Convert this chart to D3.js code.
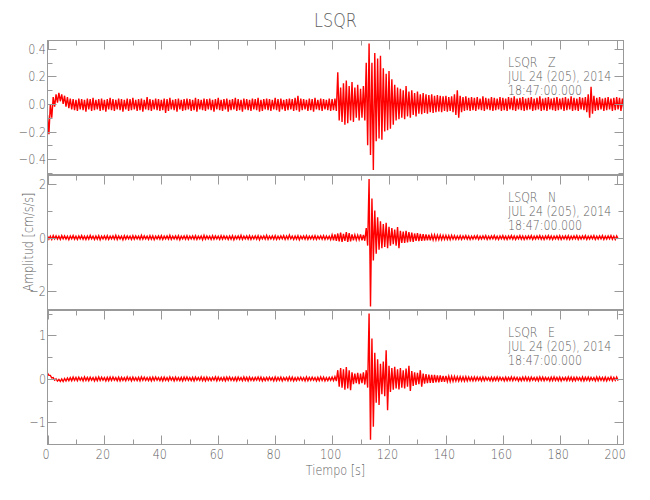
<!DOCTYPE html>
<html><head><meta charset="utf-8">
<script src="https://cdn.jsdelivr.net/npm/d3@7"></script>
<style>
body{margin:0;background:#fff}
text{font-family:"DejaVu Sans",sans-serif;font-weight:200;fill:#5e5e5e;white-space:pre}
</style>
</head><body><svg id="c" width="650" height="500"></svg>
<script>
// ---------- data ----------
const station = "LSQR";
const components = ["Z", "N", "E"];
const dateText = "JUL 24 (205), 2014";
const timeText = "18:47:00.000";
const xTitle = "Tiempo [s]";
const yTitle = "Amplitud [cm/s/s]";
const xDomain = [0, 202.4];
const xTicks = [0, 20, 40, 60, 80, 100, 120, 140, 160, 180, 200];
const xMinorTicks = [10, 30, 50, 70, 90, 110, 130, 150, 170, 190];
const zTicks = [-0.4, -0.2, 0, 0.2, 0.4];
const zMinorTicks = [-0.5, -0.3, -0.1, 0.1, 0.3];
const nTicks = [-2, 0, 2];
const nMinorTicks = [-1, 1];
const eTicks = [-1, 0, 1];
const eMinorTicks = [-1.5, -0.5, 0.5, 1.5];
const zDomain = [-0.512, 0.461];
const nDomain = [-2.675, 2.306];
const eDomain = [-1.508, 1.572];
const sampleStep = 1; // seconds per envelope sample (max at t, min at t+step/2)

// Z component: per-second envelope max / min (t = 0..202)
const zMax = [
-0.08,0.00,0.05,0.07,0.08,0.07,0.06,0.05,0.04,0.035,
0.03,0.04,0.035,0.03,0.04,0.035,0.045,0.03,0.035,0.04,
0.03,0.035,0.045,0.035,0.03,0.04,0.035,0.03,0.04,0.035,
0.045,0.03,0.035,0.04,0.03,0.05,0.035,0.03,0.04,0.035,
0.03,0.04,0.035,0.045,0.03,0.035,0.04,0.03,0.035,0.04,
0.035,0.03,0.045,0.035,0.03,0.04,0.035,0.04,0.03,0.035,
0.045,0.03,0.035,0.04,0.03,0.035,0.045,0.035,0.03,0.04,
0.035,0.03,0.04,0.035,0.045,0.03,0.035,0.04,0.035,0.03,
0.045,0.035,0.04,0.03,0.035,0.04,0.035,0.045,0.06,0.04,
0.035,0.03,0.04,0.035,0.045,0.03,0.04,0.035,0.03,0.04,
0.035,0.04,0.23,0.12,0.15,0.17,0.13,0.16,0.12,0.14,
0.11,0.13,0.30,0.44,0.30,0.37,0.33,0.35,0.26,0.22,
0.24,0.18,0.14,0.12,0.11,0.10,0.13,0.09,0.10,0.08,
0.09,0.07,0.08,0.07,0.065,0.07,0.06,0.065,0.06,0.055,
0.06,0.05,0.055,0.07,0.10,0.06,0.05,0.055,0.045,0.05,
0.045,0.05,0.04,0.055,0.045,0.04,0.05,0.045,0.04,0.05,
0.045,0.04,0.05,0.045,0.055,0.04,0.045,0.05,0.04,0.045,
0.05,0.04,0.045,0.055,0.04,0.045,0.05,0.04,0.045,0.05,
0.04,0.045,0.05,0.04,0.055,0.045,0.04,0.05,0.045,0.05,
0.07,0.125,0.06,0.045,0.05,0.04,0.045,0.05,0.04,0.045,
0.05,0.045,0.04];
const zMin = [
-0.22,-0.10,-0.02,0.01,0.02,0.00,-0.02,-0.03,-0.04,-0.045,
-0.05,-0.04,-0.045,-0.055,-0.04,-0.05,-0.045,-0.04,-0.05,-0.045,
-0.055,-0.04,-0.045,-0.05,-0.04,-0.045,-0.055,-0.04,-0.05,-0.045,
-0.04,-0.05,-0.045,-0.055,-0.04,-0.045,-0.05,-0.04,-0.045,-0.05,
-0.045,-0.065,-0.05,-0.04,-0.045,-0.055,-0.04,-0.05,-0.045,-0.04,
-0.05,-0.045,-0.055,-0.04,-0.045,-0.05,-0.04,-0.045,-0.055,-0.04,
-0.045,-0.05,-0.04,-0.055,-0.045,-0.04,-0.05,-0.045,-0.055,-0.04,
-0.045,-0.05,-0.04,-0.045,-0.055,-0.05,-0.04,-0.045,-0.05,-0.04,
-0.045,-0.055,-0.04,-0.05,-0.045,-0.04,-0.05,-0.045,-0.055,-0.045,
-0.04,-0.05,-0.045,-0.055,-0.04,-0.045,-0.05,-0.04,-0.045,-0.05,
-0.045,-0.05,-0.12,-0.13,-0.15,-0.14,-0.12,-0.13,-0.10,-0.12,
-0.10,-0.12,-0.30,-0.37,-0.48,-0.27,-0.25,-0.26,-0.20,-0.19,
-0.18,-0.15,-0.12,-0.11,-0.10,-0.11,-0.09,-0.10,-0.08,-0.09,
-0.07,-0.075,-0.065,-0.07,-0.06,-0.065,-0.06,-0.055,-0.06,-0.05,
-0.055,-0.05,-0.06,-0.08,-0.10,-0.06,-0.05,-0.045,-0.05,-0.045,
-0.05,-0.04,-0.045,-0.05,-0.04,-0.045,-0.05,-0.045,-0.04,-0.05,
-0.045,-0.05,-0.04,-0.045,-0.05,-0.04,-0.045,-0.05,-0.045,-0.04,
-0.05,-0.045,-0.04,-0.05,-0.045,-0.05,-0.04,-0.045,-0.05,-0.045,
-0.04,-0.05,-0.045,-0.04,-0.05,-0.045,-0.05,-0.04,-0.045,-0.06,
-0.10,-0.07,-0.05,-0.045,-0.04,-0.05,-0.045,-0.04,-0.05,-0.045,
-0.04,-0.05,-0.045];

// N component (t = 0..200)
const nMax = [
0.06,0.05,0.07,0.06,0.05,0.07,0.06,0.05,0.06,0.07,
0.05,0.06,0.07,0.05,0.06,0.08,0.05,0.06,0.07,0.05,
0.06,0.07,0.05,0.06,0.08,0.06,0.05,0.07,0.06,0.05,
0.07,0.06,0.05,0.08,0.06,0.05,0.07,0.06,0.05,0.06,
0.07,0.05,0.06,0.08,0.05,0.06,0.07,0.05,0.06,0.07,
0.05,0.06,0.07,0.05,0.06,0.08,0.06,0.05,0.07,0.06,
0.05,0.07,0.06,0.05,0.06,0.07,0.05,0.06,0.08,0.05,
0.06,0.07,0.05,0.06,0.07,0.05,0.06,0.08,0.05,0.06,
0.07,0.05,0.06,0.07,0.06,0.09,0.05,0.06,0.07,0.05,
0.06,0.07,0.05,0.06,0.07,0.05,0.06,0.07,0.06,0.05,
0.10,0.12,0.15,0.18,0.14,0.20,0.16,0.12,0.10,0.09,
0.12,0.10,0.35,2.18,1.45,1.00,0.75,0.60,0.50,0.55,
0.40,0.35,0.30,0.39,0.25,0.22,0.25,0.20,0.18,0.15,
0.16,0.14,0.13,0.12,0.11,0.10,0.10,0.09,0.09,0.08,
0.08,0.07,0.08,0.07,0.06,0.07,0.06,0.07,0.06,0.05,
0.06,0.07,0.05,0.06,0.07,0.05,0.06,0.07,0.05,0.06,
0.07,0.05,0.06,0.07,0.06,0.05,0.07,0.06,0.05,0.06,
0.07,0.05,0.06,0.07,0.05,0.06,0.07,0.06,0.05,0.06,
0.07,0.05,0.06,0.07,0.05,0.06,0.07,0.05,0.06,0.07,
0.05,0.06,0.07,0.05,0.06,0.07,0.05,0.06,0.07,0.05,
0.06];
const nMin = [
-0.06,-0.07,-0.05,-0.06,-0.07,-0.05,-0.06,-0.08,-0.05,-0.06,
-0.07,-0.05,-0.06,-0.07,-0.06,-0.05,-0.07,-0.06,-0.08,-0.05,
-0.06,-0.07,-0.05,-0.06,-0.07,-0.05,-0.08,-0.06,-0.05,-0.07,
-0.06,-0.05,-0.07,-0.06,-0.05,-0.07,-0.06,-0.08,-0.05,-0.06,
-0.07,-0.05,-0.06,-0.07,-0.05,-0.06,-0.08,-0.05,-0.06,-0.07,
-0.05,-0.06,-0.07,-0.05,-0.08,-0.06,-0.05,-0.07,-0.06,-0.05,
-0.07,-0.06,-0.05,-0.07,-0.06,-0.08,-0.05,-0.06,-0.07,-0.05,
-0.06,-0.07,-0.05,-0.06,-0.08,-0.05,-0.06,-0.07,-0.05,-0.06,
-0.07,-0.06,-0.05,-0.07,-0.06,-0.05,-0.07,-0.06,-0.08,-0.05,
-0.06,-0.07,-0.05,-0.06,-0.07,-0.05,-0.06,-0.07,-0.06,-0.08,
-0.10,-0.12,-0.14,-0.16,-0.12,-0.16,-0.14,-0.10,-0.09,-0.08,
-0.10,-0.12,-0.30,-2.56,-0.85,-0.60,-0.45,-0.40,-0.35,-0.40,
-0.30,-0.25,-0.30,-0.40,-0.20,-0.20,-0.18,-0.15,-0.16,-0.12,
-0.13,-0.12,-0.11,-0.10,-0.10,-0.09,-0.09,-0.08,-0.08,-0.07,
-0.07,-0.08,-0.06,-0.07,-0.06,-0.07,-0.05,-0.06,-0.07,-0.06,
-0.05,-0.07,-0.06,-0.05,-0.07,-0.06,-0.05,-0.06,-0.07,-0.05,
-0.06,-0.07,-0.05,-0.06,-0.07,-0.05,-0.06,-0.07,-0.06,-0.05,
-0.07,-0.06,-0.05,-0.06,-0.07,-0.05,-0.06,-0.07,-0.05,-0.06,
-0.07,-0.05,-0.06,-0.07,-0.06,-0.05,-0.07,-0.06,-0.05,-0.07,
-0.06,-0.05,-0.07,-0.06,-0.05,-0.07,-0.06,-0.05,-0.06,-0.07,
-0.05];

// E component (t = 0..200)
const eMax = [
0.13,0.08,0.03,0.00,-0.01,0.00,0.01,0.02,0.03,0.04,
0.035,0.04,0.03,0.045,0.035,0.04,0.03,0.035,0.045,0.04,
0.03,0.035,0.04,0.045,0.03,0.04,0.035,0.03,0.045,0.035,
0.04,0.03,0.035,0.045,0.04,0.03,0.035,0.04,0.045,0.03,
0.035,0.04,0.03,0.045,0.035,0.04,0.03,0.035,0.04,0.045,
0.03,0.035,0.04,0.03,0.045,0.035,0.04,0.03,0.035,0.045,
0.04,0.03,0.035,0.04,0.045,0.03,0.035,0.04,0.03,0.045,
0.035,0.04,0.03,0.035,0.045,0.04,0.03,0.035,0.04,0.03,
0.045,0.035,0.04,0.03,0.035,0.045,0.04,0.03,0.035,0.04,
0.03,0.045,0.035,0.04,0.03,0.035,0.045,0.04,0.03,0.035,
0.04,0.05,0.20,0.25,0.22,0.27,0.20,0.15,0.12,0.14,
0.12,0.15,0.20,1.50,0.93,0.60,0.45,0.35,0.40,0.66,
0.30,0.25,0.28,0.22,0.25,0.20,0.24,0.30,0.18,0.15,
0.14,0.20,0.12,0.11,0.10,0.09,0.09,0.08,0.08,0.07,
0.07,0.06,0.06,0.055,0.05,0.05,0.045,0.05,0.045,0.04,
0.045,0.04,0.035,0.045,0.04,0.03,0.04,0.035,0.045,0.04,
0.03,0.04,0.035,0.045,0.04,0.035,0.03,0.04,0.045,0.035,
0.04,0.03,0.035,0.045,0.04,0.035,0.03,0.04,0.045,0.035,
0.04,0.03,0.035,0.045,0.04,0.035,0.04,0.03,0.045,0.035,
0.04,0.035,0.03,0.045,0.04,0.035,0.04,0.03,0.045,0.035,
0.04];
const eMin = [
0.08,0.02,-0.03,-0.05,-0.06,-0.06,-0.05,-0.04,-0.04,-0.035,
-0.04,-0.03,-0.045,-0.035,-0.04,-0.03,-0.045,-0.04,-0.035,-0.03,
-0.045,-0.04,-0.035,-0.03,-0.04,-0.045,-0.035,-0.04,-0.03,-0.045,
-0.035,-0.04,-0.045,-0.03,-0.035,-0.04,-0.045,-0.035,-0.03,-0.04,
-0.045,-0.035,-0.04,-0.03,-0.045,-0.035,-0.04,-0.045,-0.03,-0.035,
-0.04,-0.045,-0.03,-0.035,-0.04,-0.045,-0.035,-0.04,-0.03,-0.045,
-0.035,-0.04,-0.045,-0.03,-0.035,-0.04,-0.045,-0.03,-0.04,-0.035,
-0.045,-0.035,-0.04,-0.03,-0.035,-0.045,-0.04,-0.035,-0.03,-0.045,
-0.04,-0.035,-0.045,-0.03,-0.04,-0.035,-0.045,-0.04,-0.03,-0.035,
-0.045,-0.04,-0.035,-0.03,-0.045,-0.04,-0.035,-0.045,-0.04,-0.035,
-0.04,-0.05,-0.18,-0.20,-0.25,-0.22,-0.26,-0.12,-0.10,-0.12,
-0.10,-0.13,-0.20,-1.40,-1.10,-0.55,-0.60,-0.35,-0.40,-0.72,
-0.30,-0.25,-0.22,-0.24,-0.20,-0.22,-0.18,-0.28,-0.16,-0.14,
-0.12,-0.18,-0.11,-0.10,-0.09,-0.09,-0.08,-0.08,-0.07,-0.07,
-0.06,-0.06,-0.055,-0.05,-0.05,-0.045,-0.05,-0.045,-0.04,-0.045,
-0.04,-0.035,-0.045,-0.04,-0.03,-0.04,-0.045,-0.035,-0.04,-0.03,
-0.045,-0.04,-0.035,-0.04,-0.03,-0.045,-0.04,-0.035,-0.04,-0.045,
-0.03,-0.04,-0.045,-0.035,-0.04,-0.03,-0.045,-0.04,-0.035,-0.04,
-0.045,-0.03,-0.04,-0.035,-0.045,-0.04,-0.03,-0.04,-0.045,-0.035,
-0.04,-0.03,-0.045,-0.04,-0.035,-0.04,-0.045,-0.03,-0.04,-0.035,
-0.04];

// ---------- drawing ----------
const svg = d3.select("#c");
const axisColor = "#999";
const SX = 0.8; // horizontal compression of text (narrow plotter font)

const x = d3.scaleLinear().domain(xDomain).range([47.5, 623.5]);
const panelTops = [40.5, 175.5, 310.5];
const panelH = 134;

const panels = [
  {comp: components[0], max: zMax, min: zMin, dom: zDomain, ticks: zTicks, minor: zMinorTicks, fmt: d3.format(".1f")},
  {comp: components[1], max: nMax, min: nMin, dom: nDomain, ticks: nTicks, minor: nMinorTicks, fmt: d3.format("d")},
  {comp: components[2], max: eMax, min: eMin, dom: eDomain, ticks: eTicks, minor: eMinorTicks, fmt: d3.format("d")}
];

function txt(parent, px, py, s, size, anchor, rot, sx) {
  const g = parent.append("g")
    .attr("transform", `translate(${px},${py})` + (rot ? ` rotate(${rot})` : "") + ` scale(${sx || SX},1)`);
  g.append("text").attr("text-anchor", anchor).attr("font-size", size).text(s);
  return g;
}

const defs = svg.append("defs");

panels.forEach((p, i) => {
  const top = panelTops[i], bot = top + panelH;
  const y = d3.scaleLinear().domain(p.dom).range([bot, top]);
  const g = svg.append("g");

  defs.append("clipPath").attr("id", "clip" + i)
    .append("rect").attr("x", x.range()[0]).attr("y", top)
    .attr("width", x.range()[1] - x.range()[0]).attr("height", panelH);

  // waveform: envelope max at t, envelope min at t + step/2
  const pts = [];
  p.max.forEach((v, k) => {
    const t = k * sampleStep;
    pts.push([t, v]);
    pts.push([t + sampleStep / 2, p.min[k]]);
  });
  g.append("path")
    .attr("clip-path", `url(#clip${i})`)
    .attr("d", d3.line().x(d => x(d[0])).y(d => y(d[1]))(pts))
    .attr("fill", "none").attr("stroke", "#ff0000").attr("stroke-width", 1.4)
    .attr("stroke-linejoin", "miter");

  // frame
  g.append("rect").attr("x", x.range()[0]).attr("y", top)
    .attr("width", x.range()[1] - x.range()[0]).attr("height", panelH)
    .attr("fill", "none").attr("stroke", axisColor);

  // x ticks at panel top (inward)
  const tk = g.append("g").attr("stroke", axisColor);
  const xp = t => Math.round(x(t)) + 0.5;
  xTicks.forEach(t => tk.append("line").attr("x1", xp(t)).attr("x2", xp(t)).attr("y1", top).attr("y2", top + 9));
  xMinorTicks.forEach(t => tk.append("line").attr("x1", xp(t)).attr("x2", xp(t)).attr("y1", top).attr("y2", top + 5));
  if (i === panels.length - 1) {
    xTicks.forEach(t => tk.append("line").attr("x1", xp(t)).attr("x2", xp(t)).attr("y1", bot).attr("y2", bot - 9));
    xMinorTicks.forEach(t => tk.append("line").attr("x1", xp(t)).attr("x2", xp(t)).attr("y1", bot).attr("y2", bot - 5));
  }
  // y ticks on left and right (inward)
  const L = x.range()[0], R = x.range()[1];
  p.ticks.forEach(v => {
    const yy = Math.round(y(v)) + 0.5;
    tk.append("line").attr("x1", L).attr("x2", L + 9).attr("y1", yy).attr("y2", yy);
    tk.append("line").attr("x1", R).attr("x2", R - 9).attr("y1", yy).attr("y2", yy);
  });
  p.minor.forEach(v => {
    const yy = Math.round(y(v)) + 0.5;
    tk.append("line").attr("x1", L).attr("x2", L + 5).attr("y1", yy).attr("y2", yy);
    tk.append("line").attr("x1", R).attr("x2", R - 5).attr("y1", yy).attr("y2", yy);
  });
  // y tick labels
  p.ticks.forEach(v => txt(g, L - 1.5, y(v) + 5, p.fmt(v), 14, "end"));

  // annotation
  const ax = 508;
  txt(g, ax, top + 26, station + "   " + p.comp, 13.3, "start", 0, 0.83);
  txt(g, ax, top + 40, dateText, 13.3, "start", 0, 0.83);
  txt(g, ax, top + 54.5, timeText, 13.3, "start", 0, 0.83);
});

// x tick labels at the bottom
const bottom = panelTops[2] + panelH;
xTicks.forEach(t => txt(svg, x(t) - 1.5, bottom + 14.5, d3.format("d")(t), 14, "middle"));

// titles
txt(svg, (x.range()[0] + x.range()[1]) / 2, 27, station, 20, "middle");
txt(svg, (x.range()[0] + x.range()[1]) / 2, 475, xTitle, 14, "middle");
txt(svg, 33, 242, yTitle, 14, "middle", -90);
</script>
</body></html>
